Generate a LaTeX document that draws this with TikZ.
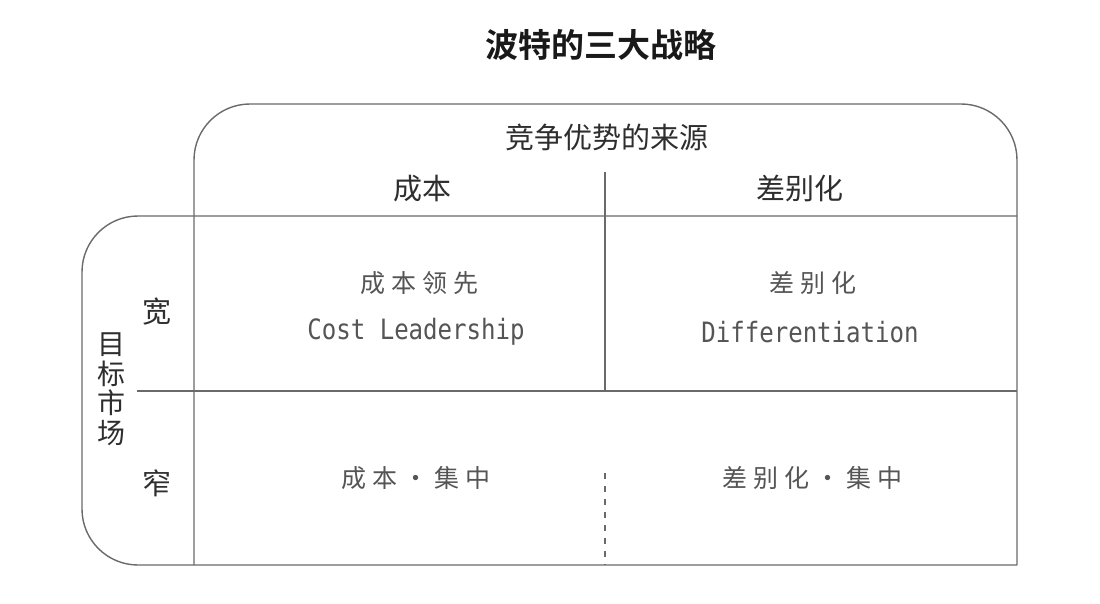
\documentclass[tikz,border=0pt]{standalone}
\usepackage{fontspec}
\newfontfamily\cjk{Noto Sans CJK SC}
\newfontfamily\cjkb{Noto Sans CJK SC}[BoldFont={* Bold}]
\newfontfamily\cjkcell[LetterSpace=24]{Noto Sans CJK SC}
\newfontfamily\monof[FakeStretch=0.86]{DejaVu Sans Mono}
\definecolor{linegray}{HTML}{6A6A6A}
\definecolor{headtext}{HTML}{2E2E2E}
\definecolor{celltext}{HTML}{555555}
\tikzset{
  frame/.style={draw=linegray, line width=1.4pt},
  headtxt/.style={text=headtext, font=\cjk\fontsize{29}{29}\selectfont, inner sep=0pt},
  celltxt/.style={text=celltext, font=\cjkcell\fontsize{25}{25}\selectfont, inner sep=0pt},
  engtxt/.style={text=celltext, font=\monof\fontsize{28}{28}\selectfont, inner sep=0pt},
}
\begin{document}
\begin{tikzpicture}[x=1pt,y=-1pt]
\useasboundingbox[fill=white] (0,0) rectangle (1100,604);
% frames
\draw[frame, rounded corners=56pt] (194,565) -- (194,104) -- (1017,104) -- (1017,565);
\draw[frame, rounded corners=56pt] (1017,216) -- (82,216) -- (82,565) -- (1017,565);
\coordinate (hl) at (137,391);
\coordinate (hr) at (1017,391);
\draw[frame] (hl) -- (hr);
\coordinate (vt) at (605,172);
\coordinate (vb) at (605,391);
\draw[frame] (vt) -- (vb);
\coordinate (dt) at (605,473);
\coordinate (db) at (605,565);
\draw[frame, dash pattern=on 6pt off 7pt] (dt) -- (db);
% title
\node[text=black!90, font=\cjkb\bfseries\fontsize{33}{33}\selectfont, inner sep=0pt] (title) at (601,45) {波特的三大战略};
% headers
\node[headtxt] (src) at (607,137) {竞争优势的来源};
\node[headtxt] (cost) at (422,189) {成本};
\node[headtxt] (diff) at (800,189) {差别化};
\node[headtxt] (wide) at (157,312) {宽};
\node[headtxt] (narrow) at (157,483) {窄};
\node[headtxt, font=\cjk\fontsize{28}{29.5}\selectfont, align=center] (mkt) at (111,389) {目\\标\\市\\场};
% cells
\node[celltxt] (c1) at (419,283) {成本领先};
\node[engtxt] (c1e) at (416,332) {Cost Leadership};
\node[celltxt] (c2) at (813,283) {差别化};
\node[engtxt] (c2e) at (810,332) {Differentiation};
\node[celltxt] (c3) at (416,478) {成本・集中};
\node[celltxt] (c4) at (812,478) {差别化・集中};
\end{tikzpicture}
\end{document}
